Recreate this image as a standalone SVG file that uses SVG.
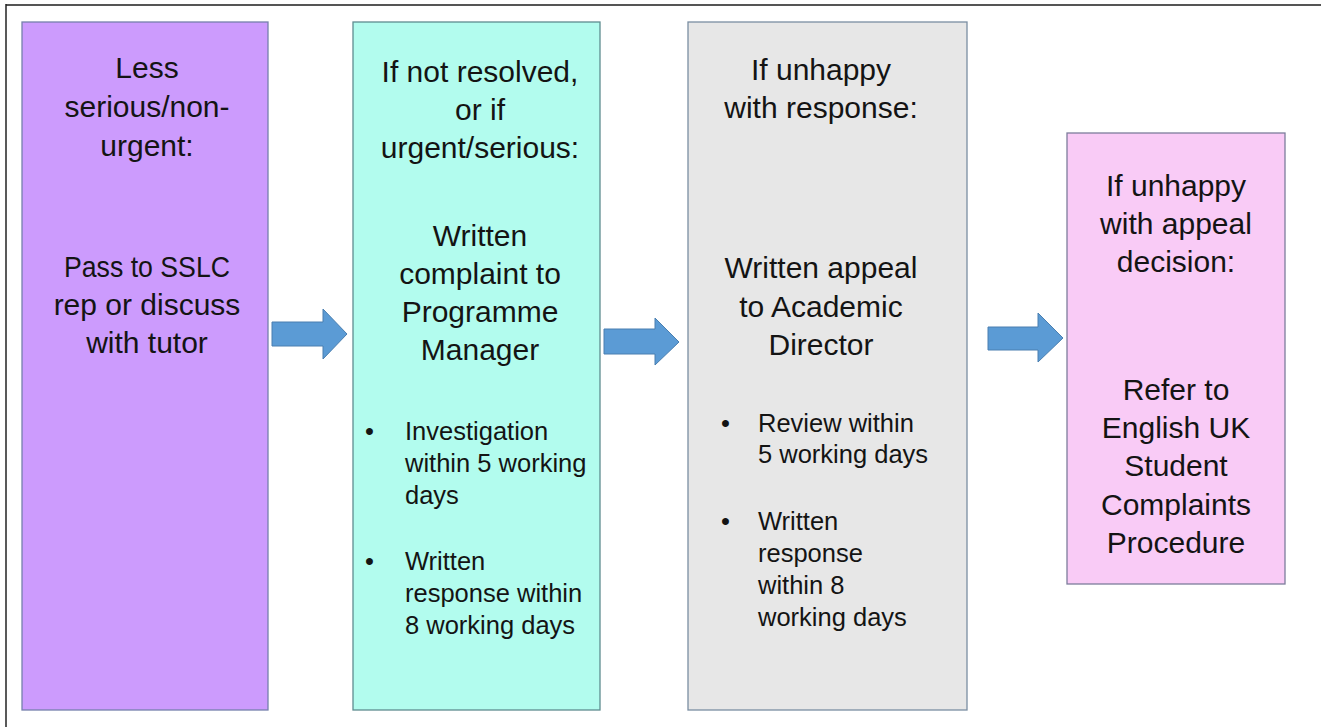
<svg xmlns="http://www.w3.org/2000/svg" width="1321" height="727" viewBox="0 0 1321 727">
<style>
  .box { stroke-width: 1.3; }
  .h { font-family: "Liberation Sans", Arial, sans-serif; font-size: 30px; fill: #141414; text-anchor: middle; }
  .b { font-family: "Liberation Sans", Arial, sans-serif; font-size: 25.5px; fill: #141414; }
  .arrow { fill: #5b9bd5; stroke: #4a7fb0; stroke-width: 1; }
</style>
<rect x="0" y="0" width="1321" height="727" fill="#ffffff"/>
<g id="frame">
  <line x1="6" y1="5" x2="1321" y2="5" stroke="#555555" stroke-width="2.2"/>
  <line x1="6" y1="4" x2="6" y2="727" stroke="#222222" stroke-width="1.5"/>
</g>
<g id="node-1">
  <rect class="box" x="22" y="22" width="246" height="688" fill="#cc9bfd" stroke="#7680ac"/>
  <text class="h" x="147" y="78">Less</text>
  <text class="h" x="147" y="117">serious/non-</text>
  <text class="h" x="147" y="156">urgent:</text>
  <text class="h" x="147" y="277" textLength="166" lengthAdjust="spacingAndGlyphs">Pass to SSLC</text>
  <text class="h" x="147" y="315">rep or discuss</text>
  <text class="h" x="147" y="353">with tutor</text>
</g>
<g id="node-2">
  <rect class="box" x="353" y="22" width="247" height="688" fill="#b2fcee" stroke="#5f8c90"/>
  <text class="h" x="480" y="82">If not resolved,</text>
  <text class="h" x="480" y="120">or if</text>
  <text class="h" x="480" y="158">urgent/serious:</text>
  <text class="h" x="480" y="246">Written</text>
  <text class="h" x="480" y="284">complaint to</text>
  <text class="h" x="480" y="322">Programme</text>
  <text class="h" x="480" y="360">Manager</text>
  <text class="b" x="365" y="440">•</text>
  <text class="b" x="405" y="440">Investigation</text>
  <text class="b" x="405" y="472">within 5 working</text>
  <text class="b" x="405" y="504">days</text>
  <text class="b" x="365" y="570">•</text>
  <text class="b" x="405" y="570">Written</text>
  <text class="b" x="405" y="602">response within</text>
  <text class="b" x="405" y="634">8 working days</text>
</g>
<g id="node-3">
  <rect class="box" x="688" y="22" width="279" height="688" fill="#e7e7e7" stroke="#7a8ea2"/>
  <text class="h" x="821" y="80">If unhappy</text>
  <text class="h" x="821" y="118">with response:</text>
  <text class="h" x="821" y="278">Written appeal</text>
  <text class="h" x="821" y="317">to Academic</text>
  <text class="h" x="821" y="355">Director</text>
  <text class="b" x="721" y="432">•</text>
  <text class="b" x="758" y="432">Review within</text>
  <text class="b" x="758" y="463">5 working days</text>
  <text class="b" x="721" y="530">•</text>
  <text class="b" x="758" y="530">Written</text>
  <text class="b" x="758" y="562">response</text>
  <text class="b" x="758" y="594">within 8</text>
  <text class="b" x="758" y="626">working days</text>
</g>
<g id="node-4">
  <rect class="box" x="1067" y="133" width="218" height="451" fill="#f9cbf6" stroke="#7d7d9c"/>
  <text class="h" x="1176" y="196">If unhappy</text>
  <text class="h" x="1176" y="234">with appeal</text>
  <text class="h" x="1176" y="272">decision:</text>
  <text class="h" x="1176" y="400">Refer to</text>
  <text class="h" x="1176" y="438">English UK</text>
  <text class="h" x="1176" y="476">Student</text>
  <text class="h" x="1176" y="515">Complaints</text>
  <text class="h" x="1176" y="553">Procedure</text>
</g>
<g id="connectors">
  <path class="arrow" d="M272,322 H323 V309 L347,334 L323,359 V346 H272 Z"/>
  <path class="arrow" d="M604,329 H655 V318 L679,342 L655,365 V354 H604 Z"/>
  <path class="arrow" d="M988,327 H1038 V313 L1063,338 L1038,362 V350 H988 Z"/>
</g>
</svg>
